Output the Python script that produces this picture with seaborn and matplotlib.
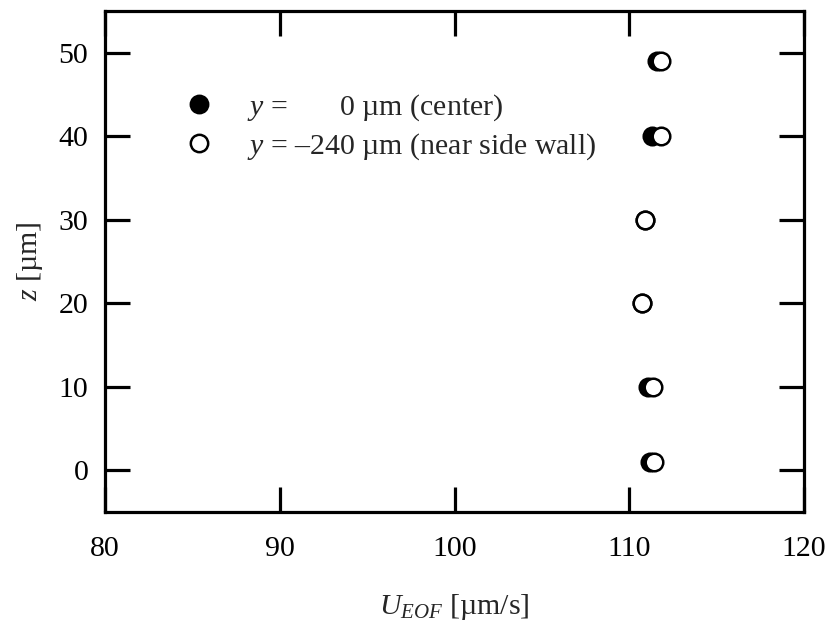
import matplotlib
matplotlib.use("Agg")
import matplotlib.pyplot as plt
import seaborn as sns
import pandas as pd
from matplotlib.lines import Line2D

# Height above the channel floor [µm]
z_center = [1, 10, 20, 30, 40, 49]
z_wall = [1, 10, 20, 30, 40, 49]
# Electroosmotic flow velocity [µm/s]
u_center = [111.2, 111.1, 110.75, 110.9, 111.3, 111.6]
u_wall = [111.4, 111.35, 110.75, 110.9, 111.8, 111.8]

label_center = "$y$ = \u2007\u2007\u20070 µm (center)"
label_wall = "$y$ = –240 µm (near side wall)"

sns.set_theme(style="ticks")
plt.rcParams["font.family"] = ["Liberation Serif", "DejaVu Serif"]
plt.rcParams["mathtext.fontset"] = "custom"
plt.rcParams["mathtext.rm"] = "Liberation Serif"
plt.rcParams["mathtext.it"] = "Liberation Serif:italic"

df_c = pd.DataFrame({"u": u_center, "z": z_center})
df_w = pd.DataFrame({"u": u_wall, "z": z_wall})

fig = plt.figure(figsize=(8.32, 6.30), dpi=100)
ax = fig.add_axes([105 / 832, 1 - 512 / 630, 699 / 832, 501 / 630])

msize = 160
lw_edge = 1.8
sns.scatterplot(data=df_c, x="u", y="z", ax=ax, s=msize, color="black",
                edgecolor="black", linewidth=lw_edge, zorder=3, legend=False)
sns.scatterplot(data=df_w, x="u", y="z", ax=ax, s=msize, color="white",
                edgecolor="black", linewidth=lw_edge, zorder=4, legend=False)

ax.set_xlim(80, 120)
ax.set_ylim(-5, 55)
ax.set_xticks([80, 90, 100, 110, 120])
ax.set_yticks([0, 10, 20, 30, 40, 50])

for sp in ax.spines.values():
    sp.set_linewidth(2.3)
    sp.set_color("black")
ax.tick_params(direction="in", length=18, width=2.3, top=True, right=True,
               labelsize=21.5, colors="black")
ax.tick_params(axis="x", pad=17)
ax.tick_params(axis="y", pad=12)

ax.set_xlabel("$U_{EOF}$ [µm/s]", fontsize=21.5, labelpad=22)
ax.set_ylabel("$z$ [µm]", fontsize=21.5, labelpad=10)

handles = [
    Line2D([], [], marker="o", linestyle="none", markersize=12.5,
           markerfacecolor="black", markeredgecolor="black", markeredgewidth=lw_edge),
    Line2D([], [], marker="o", linestyle="none", markersize=12.5,
           markerfacecolor="white", markeredgecolor="black", markeredgewidth=lw_edge),
]
ax.legend(handles, [label_center, label_wall], loc="upper left",
          bbox_to_anchor=(184 / 832, 1 - 92 / 630), bbox_transform=fig.transFigure,
          frameon=False, fontsize=21.5, handlelength=1.0, handletextpad=1.1,
          labelspacing=0.3, borderpad=0, borderaxespad=0)

fig.savefig("out.png", dpi=100)
